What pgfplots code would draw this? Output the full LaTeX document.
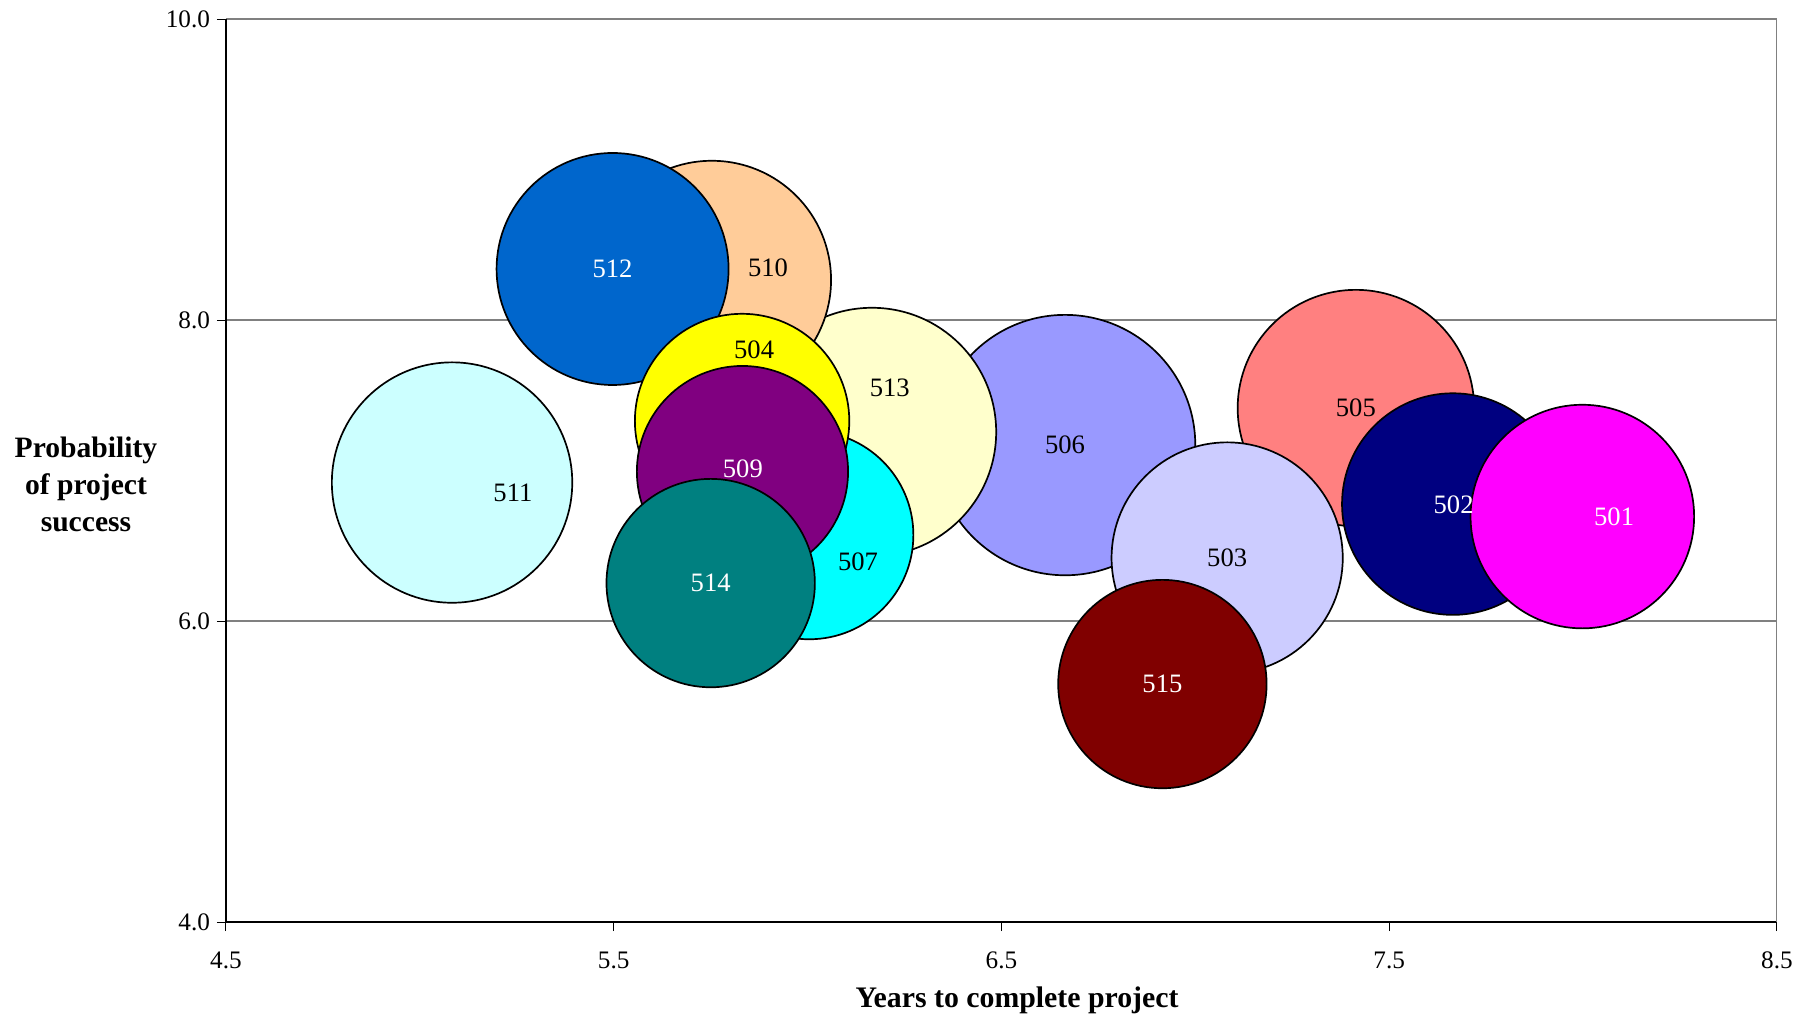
\documentclass[border=0pt]{standalone}
\usepackage{pgfplots}
\pgfplotsset{compat=1.18}
\usepackage{fontspec}
\setmainfont{Liberation Serif}
\definecolor{c501}{HTML}{FF00FF}
\definecolor{c502}{HTML}{000080}
\definecolor{c503}{HTML}{CCCCFF}
\definecolor{c504}{HTML}{FFFF00}
\definecolor{c505}{HTML}{FF8080}
\definecolor{c506}{HTML}{9999FF}
\definecolor{c507}{HTML}{00FFFF}
\definecolor{c509}{HTML}{800080}
\definecolor{c510}{HTML}{FFCC99}
\definecolor{c511}{HTML}{CCFFFF}
\definecolor{c512}{HTML}{0066CC}
\definecolor{c513}{HTML}{FFFFCC}
\definecolor{c514}{HTML}{008080}
\definecolor{c515}{HTML}{800000}
\newcommand\bub[4]{\addplot[only marks, mark=*, mark size=#3, mark options={fill=#4, draw=black, line width=0.85pt}] coordinates {(#1,#2)};}
\begin{document}
\begin{tikzpicture}
\begin{axis}[
  at={(0,0)}, anchor=south west,
  scale only axis, width=775.5pt, height=451.5pt,
  xmin=4.5, xmax=8.5, ymin=4, ymax=10,
  xtick={4.5,5.5,6.5,7.5,8.5}, ytick={4,6,8,10},
  axis x line*=bottom, axis y line*=left,
  x axis line style={-, black, line width=0.8pt},
  y axis line style={-, black, line width=0.8pt},
  tick align=outside, major tick length=4.5pt,
  tick style={black, line width=0.5pt},
  ymajorgrids, major grid style={gray, line width=0.6pt},
  /pgf/number format/assume math mode=true,
  xticklabel={\pgfmathprintnumber[fixed,fixed zerofill,precision=1]{\tick}},
  yticklabel={\pgfmathprintnumber[fixed,fixed zerofill,precision=1]{\tick}},
  tick label style={font=\fontsize{12.6}{15}\selectfont},
  xticklabel style={yshift=-7pt},
  xlabel={Years to complete project},
  xlabel style={font=\fontsize{14.9}{17}\selectfont\bfseries, at={(rel axis cs:0.51,0)}, anchor=base, yshift=-42.5pt},
  ylabel={Probability\\of project\\success},
  ylabel style={font=\fontsize{14.8}{18.5}\selectfont\bfseries, rotate=-90, align=center, at={(rel axis cs:0,0.485)}, anchor=center, xshift=-70pt},
]
\draw[gray, line width=0.6pt] (rel axis cs:1,0) -- (rel axis cs:1,1);
\bub{7.414}{7.415}{59.1}{c505}
\bub{6.664}{7.169}{65.1}{c506}
\bub{6.166}{7.256}{62.1}{c513}
\bub{5.753}{8.266}{59.6}{c510}
\bub{5.497}{8.339}{58.0}{c512}
\bub{6.004}{6.571}{52.1}{c507}
\bub{5.831}{7.329}{53.6}{c504}
\bub{5.832}{6.993}{52.8}{c509}
\bub{5.750}{6.252}{52.1}{c514}
\bub{5.083}{6.920}{60.1}{c511}
\bub{7.082}{6.419}{57.8}{c503}
\bub{7.664}{6.777}{55.4}{c502}
\bub{7.998}{6.694}{55.9}{c501}
\bub{6.915}{5.581}{52.1}{c515}
\addplot[draw=none, mark=none, nodes near coords, point meta=explicit symbolic,
  nodes near coords align=center,
  every node near coord/.append style={black, font=\fontsize{13.3}{15}\selectfont, anchor=center}]
  table[meta=lab] {
x y lab
5.240 6.850 511
5.898 8.346 510
5.862 7.801 504
6.212 7.548 513
6.130 6.392 507
6.664 7.169 506
7.414 7.415 505
7.082 6.419 503
};
\addplot[draw=none, mark=none, nodes near coords, point meta=explicit symbolic,
  nodes near coords align=center,
  every node near coord/.append style={white, font=\fontsize{13.3}{15}\selectfont, anchor=center}]
  table[meta=lab] {
x y lab
5.497 8.339 512
5.833 7.010 509
5.750 6.252 514
7.666 6.771 502
6.915 5.581 515
8.080 6.694 501
};
\end{axis}
\pgfresetboundingbox
\path (-113pt,-48pt) rectangle (793pt,461pt);
\end{tikzpicture}
\end{document}
